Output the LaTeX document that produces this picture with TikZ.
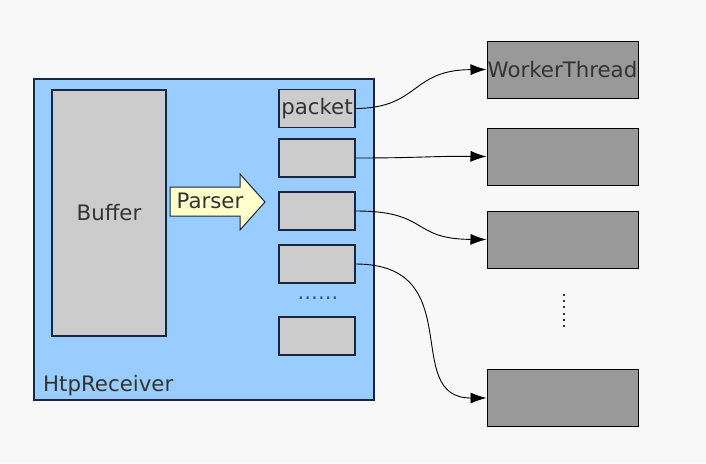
\documentclass[tikz,border=0pt]{standalone}
\usepackage{fontspec}
\setmainfont{DejaVu Sans}
\usetikzlibrary{arrows.meta}
\definecolor{bg}{HTML}{F8F8F8}
\definecolor{recv}{HTML}{99CCFF}
\definecolor{grayl}{HTML}{CCCCCC}
\definecolor{grayd}{HTML}{999999}
\definecolor{parserc}{HTML}{FFFFCC}
\definecolor{navy}{HTML}{1A2540}
\definecolor{txt}{HTML}{333333}
\definecolor{dotc}{HTML}{3A5A7A}
\begin{document}
\begin{tikzpicture}[x=1pt,y=-1pt,
  every node/.style={font=\fontsize{21.3}{25}\selectfont, text=txt, inner sep=0pt},
  recvbox/.style={draw=navy, line width=1.1pt, fill=recv},
  lightbox/.style={draw=navy, line width=1.1pt, fill=grayl, minimum width=76pt, minimum height=38pt},
  workbox/.style={draw=black, line width=1pt, fill=grayd, minimum width=151pt, minimum height=57pt},
  conn/.style={draw=black, line width=0.9pt, -{Latex[length=16pt,width=11pt]}}]
\useasboundingbox[fill=bg] (0,0) rectangle (706,463);
% receiver
\node[recvbox, minimum width=340pt, minimum height=321pt] (recv) at (204,239.5) {};
\node[anchor=base west] (recvlabel) at (43,391) {HtpReceiver};
% buffer
\node[draw=navy, line width=1.1pt, fill=grayl, minimum width=114pt, minimum height=246pt] (buffer) at (109,213) {Buffer};
% parser arrow
\draw[draw=navy, line width=1pt, fill=parserc] (170,187) -- (240,187) -- (240,174) -- (265,202) -- (240,230) -- (240,216) -- (170,216) -- cycle;
\node (parser) at (210,201) {Parser};
% packets
\node[lightbox] (p1) at (317,108.5) {packet};
\node[lightbox] (p2) at (317,158) {};
\node[lightbox] (p3) at (317,211) {};
\node[lightbox] (p4) at (317,264) {};
\node[lightbox] (p5) at (317,336) {};
\node[text=dotc] (pdots) at (318,298) {......};
% workers
\node[workbox] (w1) at (562.5,69.5) {WorkerThread};
\node[workbox] (w2) at (562.5,156.5) {};
\node[workbox] (w3) at (562.5,239.5) {};
\node[workbox] (w5) at (562.5,398) {};
\coordinate (vd1) at (564,294);
\coordinate (vd2) at (564,331);
\draw[draw=txt, line width=2pt, dash pattern=on 2pt off 4.2pt] (vd1) -- (vd2);
% connectors
\draw[conn] (p1.east) .. controls (420,108) and (410,70) .. (w1.west);
\draw[conn] (p2.east) .. controls (420,158) and (430,156) .. (w2.west);
\draw[conn] (p3.east) .. controls (430,211) and (410,239) .. (w3.west);
\draw[conn] (p4.east) .. controls (470,264) and (400,398) .. (w5.west);
\end{tikzpicture}
\end{document}
